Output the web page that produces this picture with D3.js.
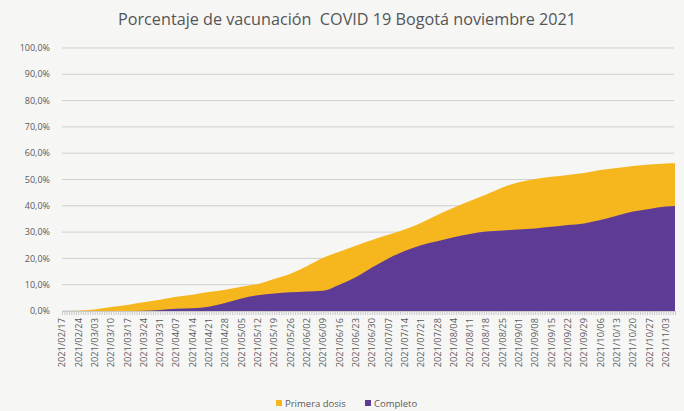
<!DOCTYPE html>
<html>
<head>
<meta charset="utf-8">
<script src="https://cdn.jsdelivr.net/npm/d3@7"></script>
<style>
  body { margin: 0; background: #f6f6f5; }
  svg { display: block; font-family: "Open Sans", "Noto Sans", sans-serif; }
</style>
</head>
<body>
<script>
// weekly reading dates (last one is the end of the series)
var dates = ["2021-02-17","2021-02-24","2021-03-03","2021-03-10","2021-03-17","2021-03-24",
  "2021-03-31","2021-04-07","2021-04-14","2021-04-21","2021-04-28","2021-05-05","2021-05-12",
  "2021-05-19","2021-05-26","2021-06-02","2021-06-09","2021-06-16","2021-06-23","2021-06-30",
  "2021-07-07","2021-07-14","2021-07-21","2021-07-28","2021-08-04","2021-08-11","2021-08-18",
  "2021-08-25","2021-09-01","2021-09-08","2021-09-15","2021-09-22","2021-09-29","2021-10-06",
  "2021-10-13","2021-10-20","2021-10-27","2021-11-03","2021-11-07"];

// % of population
var primeraDosis = [0, 0.1, 0.6, 1.5, 2.3, 3.3, 4.3, 5.4, 6.2, 7.2, 8.1, 9.2, 10.3,
  12.2, 14.2, 17.0, 20.2, 22.5, 24.8, 27.0, 29.0, 31.0, 33.5, 36.5, 39.3, 41.8, 44.3,
  47.0, 49.0, 50.2, 51.0, 51.7, 52.5, 53.6, 54.4, 55.1, 55.7, 56.1, 56.2];

var completo = [0, 0, 0, 0, 0, 0.1, 0.4, 0.9, 1.0, 1.6, 3.0, 4.8, 6.0,
  6.7, 7.1, 7.4, 7.7, 10.0, 12.8, 16.5, 20.0, 22.8, 25.0, 26.5, 28.0, 29.3, 30.2,
  30.6, 31.0, 31.4, 32.0, 32.7, 33.3, 34.6, 36.2, 37.8, 38.8, 39.7, 39.9];

var yTicks = [0, 10, 20, 30, 40, 50, 60, 70, 80, 90, 100];

var series = [
  { name: "Primera dosis", values: primeraDosis, color: "#f6b61e" },
  { name: "Completo", values: completo, color: "#5e3c96" }
];

var svgWidth = 684, svgHeight = 411;
var margin = { top: 48, right: 9, bottom: 100, left: 62 };
var width = svgWidth - margin.left - margin.right;
var height = svgHeight - margin.top - margin.bottom;

var parse = d3.timeParse("%Y-%m-%d");
var fmt = d3.timeFormat("%Y/%m/%d");
var days = dates.map(parse);

var svg = d3.select("body").append("svg")
  .attr("width", svgWidth)
  .attr("height", svgHeight);

svg.append("text")
  .attr("x", 347).attr("y", 25)
  .attr("text-anchor", "middle")
  .attr("font-size", 16)
  .attr("fill", "#555555")
  .attr("textLength", 458)
  .attr("lengthAdjust", "spacingAndGlyphs")
  .style("white-space", "pre")
  .text("Porcentaje de vacunación  COVID 19 Bogotá noviembre 2021");

var g = svg.append("g")
  .attr("transform", "translate(" + margin.left + "," + margin.top + ")");

var x = d3.scaleTime()
  .domain([days[0], days[days.length - 1]])
  .range([0, width]);

var y = d3.scaleLinear().domain([0, 100]).range([height, 0]);

// gridlines
g.selectAll(".grid").data(yTicks).enter().append("line")
  .attr("x1", 0).attr("x2", width - 1)
  .attr("y1", d => y(d)).attr("y2", d => y(d))
  .attr("stroke", "#cfcfcf").attr("stroke-width", 1);

g.selectAll(".ylab").data(yTicks).enter().append("text")
  .attr("x", -12).attr("y", d => y(d)).attr("dy", "0.35em")
  .attr("text-anchor", "end")
  .attr("font-size", 9)
  .attr("fill", "#595959")
  .text(d => d.toFixed(1).replace(".", ",") + "%");

// areas, drawn back to front
series.forEach(function(s) {
  var area = d3.area()
    .x((d, i) => x(days[i]))
    .y0(y(0))
    .y1(d => y(d))
    .curve(d3.curveMonotoneX);
  g.append("path")
    .datum(s.values)
    .attr("fill", s.color)
    .attr("d", area);
});

// daily tick marks along the base
var axis = g.append("g")
  .attr("transform", "translate(0," + height + ")")
  .call(d3.axisBottom(x).ticks(d3.timeDay.every(1)).tickSize(4).tickFormat(""));
axis.select(".domain").attr("stroke", "#c8c8c8");
axis.selectAll(".tick line").attr("stroke", "#cacaca");

// weekly labels
var labelDays = days.slice(0, days.length - 1);
g.selectAll(".xlab").data(labelDays).enter().append("text")
  .attr("transform", d => "translate(" + x(d) + "," + (height + 7) + ") rotate(-90)")
  .attr("dy", "0.35em")
  .attr("text-anchor", "end")
  .attr("font-size", 9.3)
  .attr("fill", "#595959")
  .text(d => fmt(d));

// legend
var legend = svg.append("g").attr("transform", "translate(276,404)");
var lx = [0, 89];
series.forEach(function(s, i) {
  legend.append("rect")
    .attr("x", lx[i]).attr("y", -4)
    .attr("width", 6).attr("height", 6)
    .attr("fill", s.color);
  legend.append("text")
    .attr("x", lx[i] + 9).attr("y", 0).attr("dy", "0.35em")
    .attr("font-size", 9.5)
    .attr("fill", "#595959")
    .text(s.name);
});
</script>
</body>
</html>
